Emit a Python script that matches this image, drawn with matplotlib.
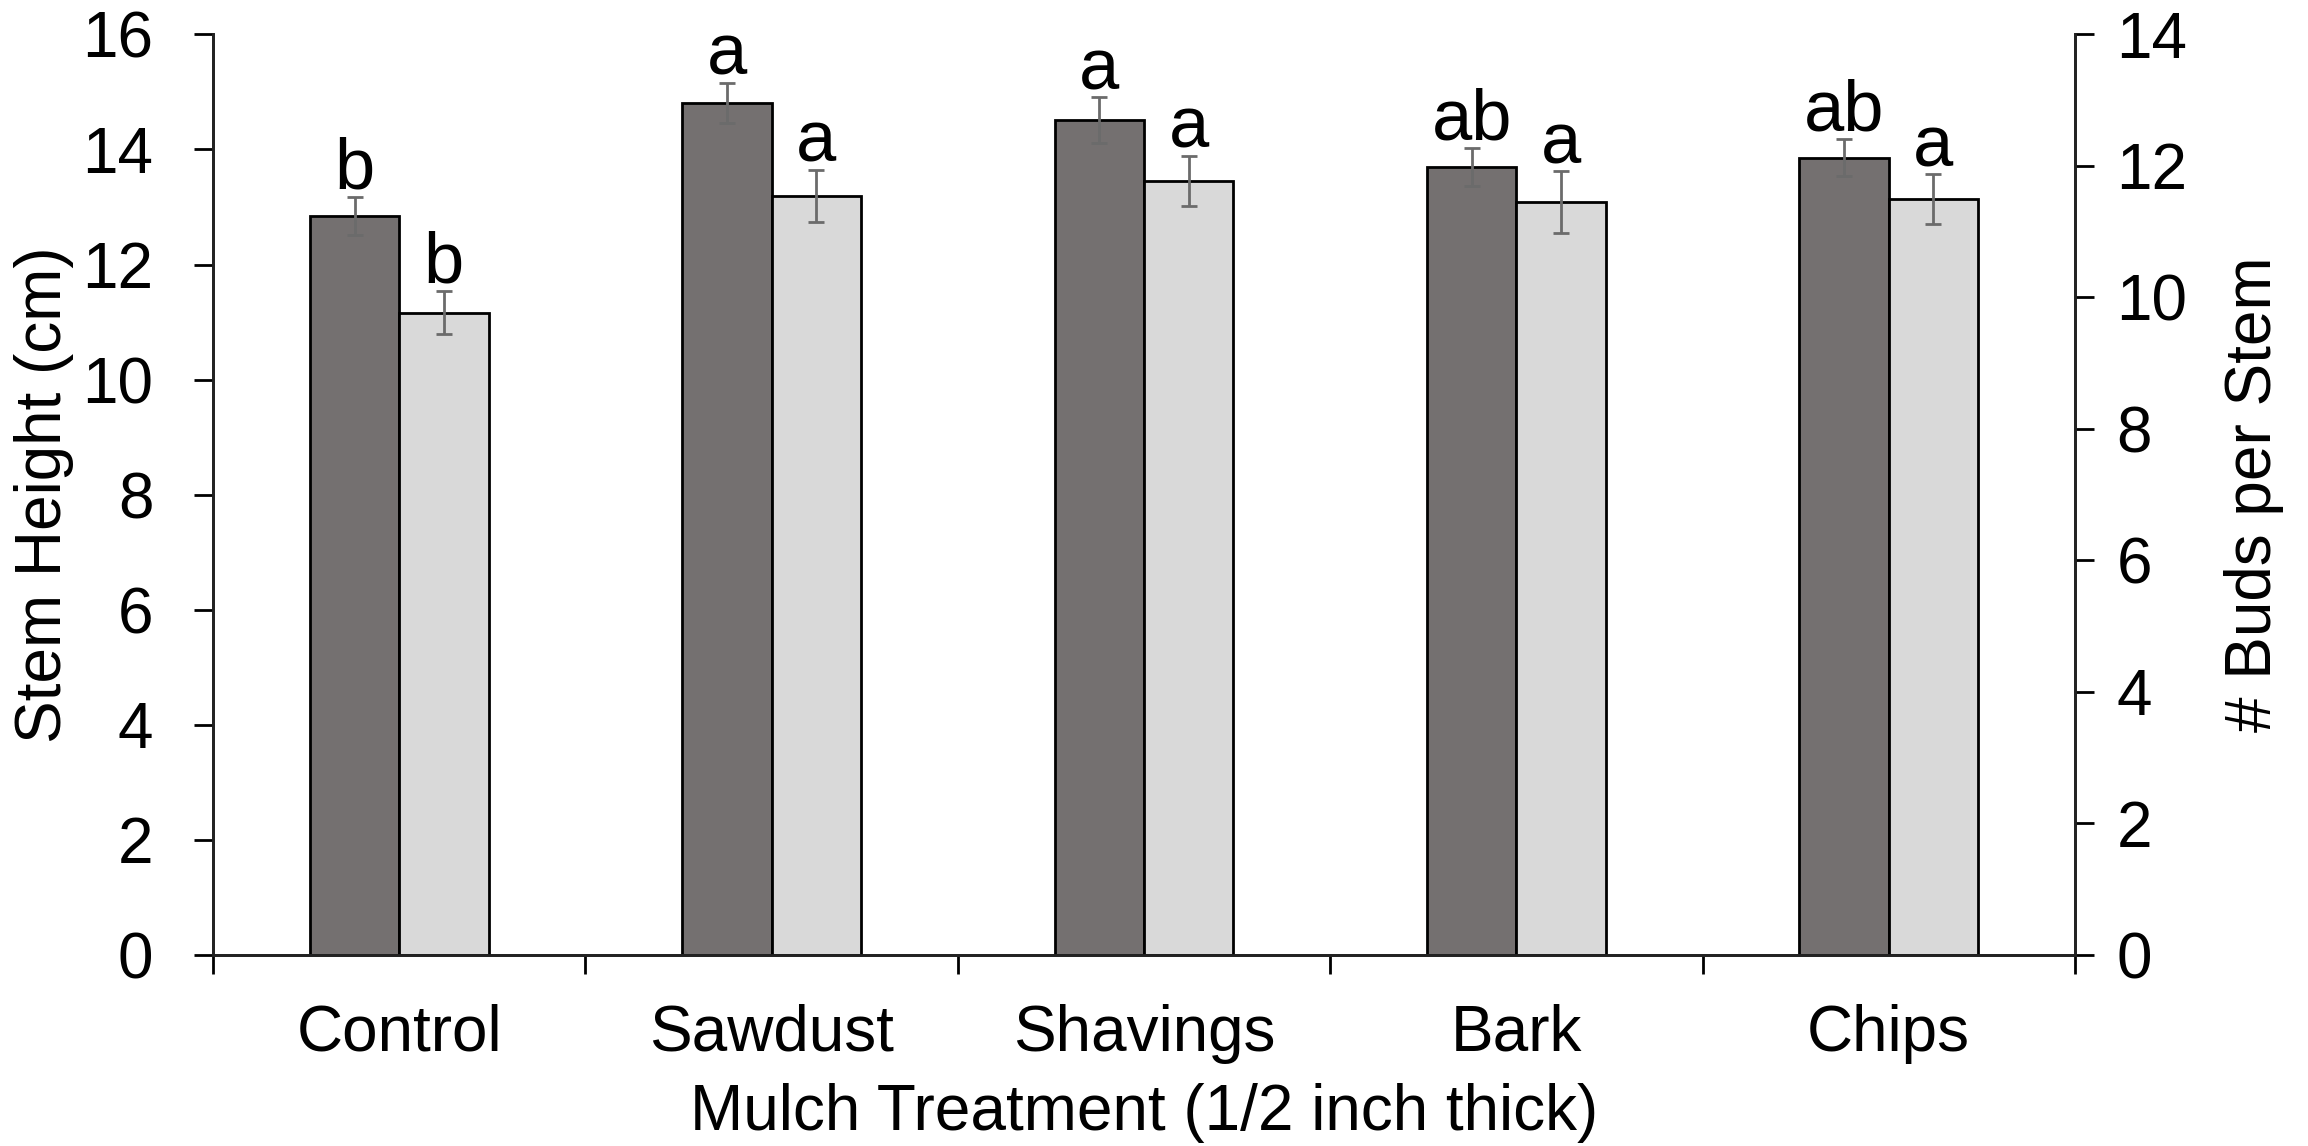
import matplotlib
matplotlib.use("Agg")
from matplotlib import pyplot as plt
import numpy as np

plt.rcParams['font.family'] = ['Liberation Sans', 'DejaVu Sans']

treatments = ["Control", "Sawdust", "Shavings", "Bark", "Chips"]
height = [12.85, 14.81, 14.51, 13.70, 13.86]
height_err = [0.33, 0.35, 0.40, 0.33, 0.33]
height_letters = ["b", "a", "a", "ab", "ab"]
buds = [9.77, 11.54, 11.77, 11.45, 11.49]
buds_err = [0.33, 0.40, 0.38, 0.47, 0.38]
buds_letters = ["b", "a", "a", "a", "a"]

dark = "#747070"
light = "#d9d9d9"
errc = "#6b6b6b"

fig = plt.figure(figsize=(23.08, 11.46), dpi=100)
ax = fig.add_axes([0.0923, 0.1667, 0.8067, 0.8033])
ax2 = ax.twinx()

x = np.arange(len(treatments))
w = 0.24
fs = 46
lfs = 52

ax.bar(x - w / 2, height, w, color=dark, edgecolor="black", linewidth=2, zorder=2)
ax.errorbar(x - w / 2, height, yerr=height_err, fmt="none", ecolor=errc,
            elinewidth=2, capsize=5.5, capthick=2, zorder=3)
ax2.bar(x + w / 2, buds, w, color=light, edgecolor="black", linewidth=2, zorder=2)
ax2.errorbar(x + w / 2, buds, yerr=buds_err, fmt="none", ecolor=errc,
             elinewidth=2, capsize=5.5, capthick=2, zorder=3)

# significance letters sit just above the error bars
for i in range(len(x)):
    ax.annotate(height_letters[i], (x[i] - w / 2, height[i] + height_err[i]),
                xytext=(0, -5), textcoords="offset points", ha="center", va="bottom",
                fontsize=lfs)
    ax2.annotate(buds_letters[i], (x[i] + w / 2, buds[i] + buds_err[i]),
                 xytext=(0, -5), textcoords="offset points", ha="center", va="bottom",
                 fontsize=lfs)

ax.set_xlim(-0.5, 4.5)
ax.set_ylim(0, 16)
ax2.set_ylim(0, 14)
ax.set_yticks(np.arange(0, 17, 2))
ax2.set_yticks(np.arange(0, 15, 2))

ax.set_xticks(np.arange(-0.5, 5, 1.0))
ax.set_xticklabels([])
ax.set_xticks(x, minor=True)
ax.set_xticklabels(treatments, minor=True)
ax.tick_params(axis="x", which="major", direction="out", length=14, width=2)
ax.tick_params(axis="x", which="minor", length=0, labelsize=fs, pad=35)
ax.tick_params(axis="y", direction="out", length=14, width=2, labelsize=fs, pad=29)
ax2.tick_params(axis="y", direction="out", length=14, width=2, labelsize=fs, pad=16)

for a in (ax, ax2):
    a.spines["top"].set_visible(False)
    for s in ("left", "right", "bottom"):
        a.spines[s].set_linewidth(2)
        a.spines[s].set_color("#222222")

ax.set_xlabel("Mulch Treatment (1/2 inch thick)", fontsize=fs, labelpad=14)
ax.set_ylabel("Stem Height (cm)", fontsize=fs, labelpad=6)
ax2.set_ylabel("# Buds per Stem", fontsize=fs, rotation=90, labelpad=26)

fig.savefig("out.png", dpi=100)
